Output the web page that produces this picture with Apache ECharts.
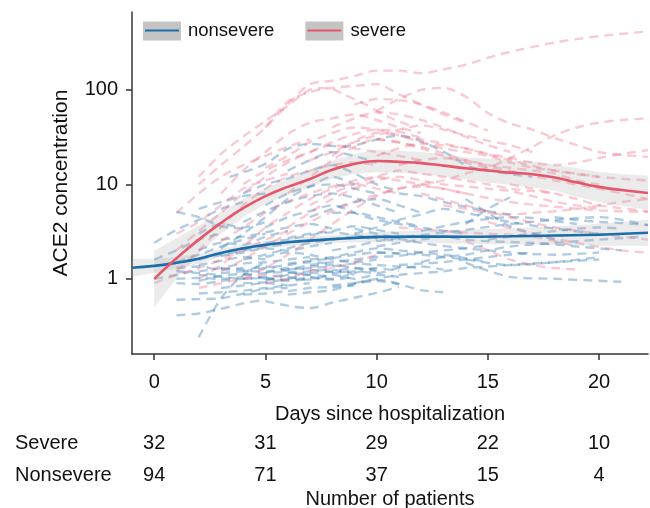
<!DOCTYPE html>
<html>
<head>
<meta charset="utf-8">
<script src="https://cdn.jsdelivr.net/npm/echarts@6/dist/echarts.min.js"></script>
<style>
html, body { margin: 0; padding: 0; background: #fff; }
#chart { width: 650px; height: 508px; }
</style>
</head>
<body>
<div id="chart"></div>
<script>
// tick positions and the patient counts table
const tickDays = [0, 5, 10, 15, 20];
const severeCounts = [32, 31, 29, 22, 10];
const nonsevereCounts = [94, 71, 37, 15, 4];
const yTicks = [1, 10, 100];

// fitted mean curves and their confidence bands
const nonDays = [-1, 0, 1, 2, 3, 4, 5, 6, 7, 8, 9, 10, 12, 14, 16, 18, 20, 22.2];
const nonMean = [1.31, 1.37, 1.48, 1.63, 1.88, 2.10, 2.29, 2.44, 2.54, 2.63, 2.71, 2.78, 2.80, 2.79, 2.82, 2.87, 2.93, 3.07];
const nonLow = [1.05, 1.16, 1.28, 1.44, 1.71, 1.91, 2.08, 2.21, 2.30, 2.39, 2.43, 2.46, 2.42, 2.35, 2.32, 2.30, 2.24, 2.24];
const nonHigh = [1.63, 1.62, 1.71, 1.84, 2.07, 2.31, 2.52, 2.69, 2.80, 2.90, 3.02, 3.14, 3.24, 3.31, 3.43, 3.57, 3.83, 4.21];

const sevDays = [0, 1, 2, 3, 4, 5, 6, 7, 8, 9, 10, 11, 12, 13, 14, 15, 16, 17, 18, 19, 20, 21, 22.2];
const sevMean = [1.0, 1.65, 2.6, 3.9, 5.6, 7.5, 9.4, 11.4, 14.3, 16.4, 17.7, 17.3, 16.8, 15.8, 14.8, 14.0, 13.3, 12.8, 11.8, 10.5, 9.4, 8.7, 8.1];
const sevLow = [0.50, 1.01, 1.84, 2.98, 4.5, 6.2, 7.7, 9.4, 11.5, 12.9, 13.5, 13.2, 12.8, 12.1, 11.3, 10.4, 9.9, 9.3, 8.6, 7.4, 6.5, 5.9, 5.4];
const sevHigh = [1.98, 2.69, 3.67, 5.1, 7.0, 9.1, 11.4, 13.9, 17.8, 20.9, 23.2, 22.7, 22.0, 20.7, 19.4, 18.8, 17.8, 17.6, 16.2, 14.8, 13.5, 12.9, 12.3];

// individual patients, [day, concentration]
const nonsevereTraces = [
    [[2, 0.24], [3, 0.62], [4, 1.1], [5, 1.5]],
    [[1, 0.41], [2, 0.43], [3, 0.48], [4, 0.55], [5, 0.6]],
    [[1, 0.6], [2, 0.61], [3, 0.62], [4, 0.7], [5, 0.78], [6, 0.8]],
    [[5, 0.58], [6, 0.52], [7, 0.49], [8, 0.56], [10, 0.71], [11, 0.82]],
    [[6, 0.68], [7, 0.72], [8, 0.76], [10, 0.98], [12, 0.76], [13, 0.72]],
    [[14, 1.48], [16, 1.05], [18, 1.0], [21, 0.93]],
    [[9, 3.4], [12, 2.4], [15, 2.0], [18, 1.8], [20, 1.9]],
    [[1, 1.0], [2, 1.02], [3, 1.0], [4, 1.05]],
    [[1, 1.2], [2, 1.15], [3, 1.1]],
    [[2, 0.95], [3, 1.08], [4, 1.12], [5, 1.0]],
    [[3, 1.3], [4, 1.25], [5, 1.35], [6, 1.2]],
    [[4, 0.9], [5, 0.92], [6, 1.0], [7, 1.1], [8, 1.05]],
    [[5, 1.15], [6, 1.3], [7, 1.25], [8, 1.18], [9, 1.2]],
    [[6, 1.05], [7, 0.98], [8, 1.1], [9, 1.0], [10, 1.1], [11, 1.05]],
    [[7, 1.35], [8, 1.4], [9, 1.3], [10, 1.2]],
    [[2, 1.4], [3, 1.55], [4, 1.7], [5, 1.6]],
    [[2, 2.0], [3, 2.4], [4, 2.3], [5, 2.8], [6, 3.2]],
    [[0, 2.4], [1, 3.3], [2, 4.2], [3, 5.5], [4, 6.5]],
    [[1, 5.1], [2, 4.5], [3, 3.6], [4, 3.4]],
    [[3, 2.1], [4, 3.0], [5, 4.5], [6, 7.0], [7, 9.5], [8, 12], [9, 10]],
    [[3.4, 12], [5, 16.5], [6, 23.7], [7, 26.8], [8.5, 25], [10.9, 32.6], [11.7, 30.4], [13.2, 21], [14.2, 15.3], [17, 12]],
    [[4, 8], [5, 10], [6, 11.5], [7, 14], [8, 16], [9, 13], [10, 10], [11, 8.5]],
    [[5, 3.5], [6, 4.5], [7, 5.2], [8, 6.0], [9, 5.0], [10, 4.2], [12, 3.5], [14, 3.0]],
    [[8, 2.0], [9, 2.2], [10, 2.5], [12, 2.9], [14, 3.3], [16, 3.8], [18, 4.2], [20, 4.5], [22.2, 3.7]],
    [[10, 1.9], [12, 1.8], [14, 1.6], [16, 1.4], [18, 1.5], [20, 1.7]],
    [[7, 1.6], [8, 1.7], [9, 1.9], [10, 2.1], [11, 2.0], [13, 1.8], [15, 1.5]],
    [[9, 0.9], [10, 1.0], [11, 1.1], [12, 1.15], [13, 1.2], [14, 1.3], [15, 1.35], [16, 1.4], [17, 1.45], [19, 1.55], [20, 1.6]],
    [[14, 3.8], [15, 5.5], [16, 7.3]],
    [[14, 7], [15, 5], [16, 3.6], [18, 2.6]],
    [[3, 1.75], [4, 1.9], [5, 2.1], [6, 2.0], [7, 2.2], [8, 2.4]],
    [[5, 1.7], [6, 1.9], [7, 1.8], [8, 1.6], [9, 1.5], [10, 1.6]],
    [[2, 1.2], [3, 1.3], [4, 1.45], [5, 1.5], [6, 1.6], [7, 1.7]],
    [[6, 1.25], [7, 1.3], [8, 1.35], [9, 1.45], [10, 1.4], [12, 1.3]],
    [[8, 0.85], [9, 0.9], [10, 0.95], [11, 0.88]],
    [[3, 0.8], [4, 0.85], [5, 0.9], [6, 0.85]],
    [[0, 1.0], [1, 1.1], [2, 1.25]],
    [[4, 4.0], [5, 5.2], [6, 6.5], [7, 7.5], [8, 8.0], [9, 7.2], [10, 6.0], [11, 5.0]],
    [[9, 3.0], [10, 3.5], [11, 4.2], [12, 4.8], [13, 5.5], [14, 5.0], [16, 4.0], [18, 3.4], [20, 3.0]],
    [[6, 2.7], [7, 3.0], [8, 3.2], [9, 3.6], [10, 3.3], [11, 3.0]],
    [[12, 1.5], [13, 1.7], [14, 1.8], [15, 2.0], [16, 2.2], [18, 2.4], [20, 2.6], [22, 2.8]],
    [[2, 3.0], [3, 3.8], [4, 3.5], [5, 4.0]],
    [[4, 1.2], [5, 1.3], [6, 1.4], [7, 1.5], [8, 1.45]],
    [[1, 0.9], [2, 0.88], [3, 0.95]],
    [[5, 0.95], [6, 1.1], [7, 1.15], [8, 1.2], [9, 1.3], [10, 1.25]],
    [[8, 5.0], [9, 5.0], [10, 4.5], [11, 4.0], [12, 3.6]],
    [[11, 8.0], [12, 7.5], [13, 6.5], [14, 5.8], [15, 5.2], [16, 4.8]],
    [[18, 4.5], [19, 4.2], [20, 4.0], [21, 3.9], [22.2, 3.7]],
    [[1, 1.3], [2, 1.35], [3, 1.25], [4, 1.3]],
    [[2, 1.1], [3, 1.05], [4, 1.0], [5, 1.05], [6, 1.1]],
    [[3, 0.95], [4, 1.0], [5, 1.02], [6, 0.95], [7, 1.0]],
    [[4, 1.1], [5, 1.15], [6, 1.18], [7, 1.1]],
    [[5, 1.0], [6, 0.98], [7, 1.02], [8, 0.98], [9, 1.05]],
    [[6, 1.15], [7, 1.2], [8, 1.25], [9, 1.1]],
    [[7, 1.05], [8, 1.0], [9, 1.15], [10, 1.3], [11, 1.2]],
    [[8, 1.15], [9, 1.2], [10, 1.15], [11, 1.3], [12, 1.35], [13, 1.25]],
    [[2, 1.6], [3, 1.8], [4, 2.0], [5, 2.2], [6, 2.3]],
    [[3, 2.6], [4, 2.8], [5, 3.1], [6, 3.5], [7, 3.8], [8, 3.4]],
    [[4, 1.6], [5, 1.8], [6, 2.1], [7, 2.4], [8, 2.6], [9, 2.8], [10, 2.6]],
    [[5, 2.4], [6, 2.6], [7, 2.9], [8, 3.1], [9, 2.9], [10, 2.7], [11, 2.5]],
    [[6, 1.45], [7, 1.55], [8, 1.65], [9, 1.8], [10, 1.9], [11, 1.85]],
    [[1, 1.5], [2, 1.8], [3, 2.2], [4, 2.6], [5, 3.0]],
    [[0, 1.6], [1, 2.0], [2, 2.6], [3, 3.0]],
    [[7, 4.5], [8, 5.5], [9, 6.5], [10, 7.0], [11, 6.0], [12, 5.0]],
    [[5, 6], [6, 8], [7, 9.5], [8, 10], [9, 9], [10, 8]],
    [[9, 1.6], [10, 1.7], [11, 1.75], [12, 1.9], [13, 2.0], [14, 2.1], [15, 2.3]],
    [[10, 2.2], [11, 2.4], [12, 2.6], [13, 2.8], [14, 2.6], [15, 2.5], [17, 2.4], [19, 2.2], [21, 2.0]],
    [[2, 0.7], [3, 0.72], [4, 0.75], [5, 0.8], [6, 0.85], [7, 0.9]],
    [[4, 0.68], [5, 0.7], [6, 0.74], [7, 0.8], [8, 0.82], [9, 0.85]],
    [[3, 1.15], [4, 1.2], [5, 1.2], [6, 1.25], [7, 1.4], [8, 1.5], [9, 1.6]],
    [[11, 1.4], [12, 1.45], [13, 1.5], [14, 1.6], [15, 1.7], [16, 1.8], [17, 1.9]],
    [[12, 3.2], [13, 3.6], [14, 4.0], [15, 4.3], [16, 4.5], [17, 4.4], [18, 4.1], [19, 3.8]],
    [[15, 2.6], [16, 2.8], [17, 3.0], [18, 3.2], [19, 3.4], [20, 3.5], [21, 3.4]],
    [[2, 5.5], [3, 6.5], [4, 7.5], [5, 8.0]],
    [[6, 14], [7, 18], [8, 22], [9, 20], [10, 17]]
];

const severeTraces = [
    [[2, 10], [3, 16], [4, 25], [5, 40], [6, 70], [7, 115], [8, 125], [9, 140], [10, 160], [11, 160], [12, 150], [13, 165], [14, 185], [15.6, 240], [18.1, 320], [20.4, 380], [22.2, 415]],
    [[12, 10], [13, 11], [14, 13], [15, 15], [16, 19], [17, 25], [18, 33], [19, 40], [20, 45], [21, 48], [22.2, 50]],
    [[5, 40], [6, 75], [7, 95], [8, 105], [9, 110], [10, 115], [11, 90], [12, 70], [13, 55], [14, 45]],
    [[10, 60], [11, 80], [12, 100], [13, 105], [14, 85], [15, 57], [16, 44], [17, 38], [18, 31], [19, 26], [20, 22], [21, 20.5], [22.2, 19.5]],
    [[10, 30], [12, 25], [14, 18], [16, 14], [18, 11], [20, 9], [22.2, 7]],
    [[8, 20], [10, 35], [12, 30], [14, 24], [16, 18], [18, 14], [20, 12], [22.2, 11]],
    [[12, 8], [14, 6], [16, 4.5], [18, 3.5], [20, 3.0], [22.2, 2.6]],
    [[10, 12], [12, 10], [14, 8], [16, 6.5], [18, 5.8], [20, 5.3], [22.2, 5.1]],
    [[15, 4], [17, 3], [19, 2.4], [21, 2.0], [22.2, 1.9]],
    [[14, 2.5], [15, 2.0], [16, 1.6], [17, 1.4], [18, 1.3], [19, 1.25]],
    [[11, 3.5], [13, 3.2], [15, 3.0], [17, 2.8], [19, 2.2]],
    [[1, 1.2], [2, 2.0], [3, 3.5], [4, 6], [5, 9], [6, 12], [7, 14], [8, 16], [9, 17], [10, 16]],
    [[1, 2.0], [2, 3.2], [3, 5], [4, 8], [5, 12], [6, 17], [7, 22], [8, 26], [9, 24], [10, 22], [11, 20], [12, 18]],
    [[2, 1.0], [3, 1.4], [4, 2.2], [5, 3.5], [6, 5], [7, 7], [8, 9], [9, 11], [10, 12]],
    [[3, 8], [4, 14], [5, 22], [6, 34], [7, 45], [8, 50], [9, 55], [10, 48], [11, 40], [12, 35]],
    [[1, 5], [2, 8], [3, 12], [4, 16], [5, 20], [6, 25], [7, 30]],
    [[2, 12], [3, 21], [4, 32], [5, 47], [6, 68], [7, 100], [7.8, 105], [8.5, 90], [9.5, 70], [10.5, 52], [11.5, 42]],
    [[0, 0.9], [1, 1.1], [2, 1.3], [3, 1.6], [4, 2.0], [5, 2.6], [6, 3.2]],
    [[4, 1.0], [5, 1.3], [6, 1.8], [7, 2.6], [8, 3.8], [9, 5.5], [10, 7.5], [11, 9], [12, 10]],
    [[6, 8], [7, 12], [8, 18], [9, 25], [10, 30], [11, 28], [12, 24], [13, 20], [14, 17], [15, 15], [16, 13]],
    [[8, 40], [9, 50], [10, 58], [11, 55], [12, 48], [13, 40], [14, 32], [15, 26], [16, 22]],
    [[9, 70], [10, 80], [11, 78], [12, 70], [13, 58], [14, 46], [15, 37]],
    [[5, 15], [6, 20], [7, 28], [8, 35], [9, 40], [10, 38], [11, 33], [12, 28], [13, 24], [14, 22], [15, 20], [16, 17], [17, 15], [18, 14], [19, 13], [20, 12]],
    [[7, 6], [8, 8], [9, 10], [10, 12], [11, 14], [12, 13], [13, 12], [14, 11], [15, 10], [16, 9], [17, 8.5], [18, 8]],
    [[3, 2.5], [4, 3.5], [5, 5], [6, 6.5], [7, 8], [8, 9.5], [9, 10], [10, 9], [11, 8]],
    [[10, 20], [11, 24], [12, 27], [13, 26], [14, 24], [15, 21], [16, 19], [17, 17], [18, 16], [19, 17], [20, 19], [21, 21], [22.2, 23]],
    [[2, 0.8], [3, 0.9], [4, 1.0], [5, 1.1], [6, 1.0]],
    [[5, 0.9], [6, 1.0], [7, 1.2], [8, 1.3], [9, 1.5], [10, 1.8]],
    [[3, 1.2], [4, 1.6], [5, 2.2], [6, 3.0], [7, 4.0], [8, 5.2], [9, 6.5], [10, 7.8], [11, 9], [12, 9.5], [13, 9], [14, 8]],
    [[6, 3.5], [7, 5], [8, 7], [9, 9], [10, 11], [11, 12], [12, 11], [13, 10], [14, 9.5], [15, 9], [16, 8.5], [17, 7.5], [18, 6.5], [19, 6], [20, 5.5]],
    [[4, 10], [5, 14], [6, 18], [7, 22], [8, 28], [9, 34], [10, 38], [11, 36], [12, 31]],
    [[7, 18], [8, 22], [9, 28], [10, 33], [11, 38], [12, 42], [13, 38], [14, 33], [15, 29], [16, 26], [17, 22]],
    [[11, 16], [12, 18], [13, 19], [14, 18], [15, 16], [16, 15], [17, 14], [18, 13], [19, 11], [20, 10]],
    [[13, 6], [14, 5.5], [15, 5], [16, 4.8], [17, 5], [18, 5.2], [19, 5.5], [20, 6], [21, 6.5], [22.2, 7]],
    [[1, 3], [2, 4], [3, 6], [4, 9], [5, 11], [6, 13]],
    [[16, 10], [17, 9], [18, 8], [19, 7], [20, 6], [21, 5.6], [22.2, 5.2]]
];

const FONT = '"Liberation Sans", Arial, Helvetica, sans-serif';
const BLUE = '#1a6ea9';
const RED = '#e5566b';

function traceSeries(list, color) {
    return list.map((pts, i) => ({
        type: 'line',
        name: color + i,
        data: pts,
        symbol: 'none',
        silent: true,
        smooth: 0.3,
        z: 1,
        lineStyle: { color: color, width: 2.4, type: [9, 6] }
    }));
}

function bandSeries(xs, lo, hi) {
    return {
        type: 'custom',
        silent: true,
        z: 2,
        data: [[0, 1]],
        renderItem: function (params, api) {
            const pts = [];
            xs.forEach((d, i) => pts.push(api.coord([d, hi[i]])));
            for (let i = xs.length - 1; i >= 0; i--) pts.push(api.coord([xs[i], lo[i]]));
            return {
                type: 'polygon',
                shape: { points: pts },
                style: { fill: 'rgba(165,165,165,0.22)' }
            };
        }
    };
}

function zip(xs, ys) {
    return xs.map((x, i) => [x, ys[i]]);
}

const countAxis = (offset, counts) => ({
    type: 'value',
    min: -1,
    max: 22.2,
    position: 'bottom',
    offset: offset,
    axisLine: { show: false },
    axisTick: { show: false },
    splitLine: { show: false },
    axisLabel: {
        customValues: tickDays,
        margin: 0,
        fontSize: 20,
        fontFamily: FONT,
        color: '#111',
        formatter: (v) => String(counts[tickDays.indexOf(v)])
    }
});

const option = {
    animation: false,
    backgroundColor: '#fff',
    textStyle: { fontFamily: FONT },
    grid: { left: 132, top: 12, right: 2, bottom: 154, containLabel: false },
    legend: [
        {
            data: ['nonsevere', 'severe'],
            selectedMode: false,
            left: 143,
            top: 21.5,
            padding: 0,
            icon: 'rect',
            itemWidth: 38,
            itemHeight: 19,
            itemGap: 31,
            itemStyle: { color: '#c4c4c4', borderWidth: 0 },
            textStyle: { fontSize: 18.5, color: '#111', fontFamily: FONT, padding: [0, 0, 0, 2] }
        },
        {
            data: ['nonsevere', 'severe'],
            selectedMode: false,
            left: 145,
            top: 21,
            padding: 0,
            icon: 'rect',
            itemWidth: 34,
            itemHeight: 2,
            itemGap: 35,
            itemStyle: { borderWidth: 0 },
            textStyle: { fontSize: 18.5, color: 'rgba(0,0,0,0)', fontFamily: FONT, padding: [0, 0, 0, 2] }
        }
    ],
    xAxis: [
        {
            type: 'value',
            min: -1,
            max: 22.2,
            name: 'Days since hospitalization',
            nameLocation: 'middle',
            nameGap: 50,
            nameTextStyle: { fontSize: 20, color: '#111', fontFamily: FONT },
            axisLine: { onZero: false, lineStyle: { color: '#333', width: 1.5 } },
            axisTick: { customValues: tickDays, length: 6, lineStyle: { color: '#333', width: 1.5 } },
            axisLabel: { customValues: tickDays, margin: 18, fontSize: 20, color: '#111', fontFamily: FONT },
            splitLine: { show: false }
        },
        countAxis(79, severeCounts),
        countAxis(111, nonsevereCounts)
    ],
    yAxis: {
        type: 'log',
        logBase: 10,
        min: 0.16,
        max: 668,
        name: 'ACE2 concentration',
        nameLocation: 'middle',
        nameGap: 60,
        nameTextStyle: { fontSize: 21, color: '#111', fontFamily: FONT },
        axisLine: { show: true, onZero: false, lineStyle: { color: '#333', width: 1.5 } },
        axisTick: { customValues: yTicks, length: 6, lineStyle: { color: '#333', width: 1.5 } },
        axisLabel: { customValues: yTicks, margin: 14, fontSize: 20, color: '#111', fontFamily: FONT },
        splitLine: { show: false }
    },
    graphic: [
        { type: 'text', left: 15, top: 433, style: { text: 'Severe', fontSize: 20, fill: '#111', fontFamily: FONT } },
        { type: 'text', left: 15, top: 465, style: { text: 'Nonsevere', fontSize: 20, fill: '#111', fontFamily: FONT } },
        { type: 'text', x: 390, y: 489, style: { text: 'Number of patients', fontSize: 20, fill: '#111', fontFamily: FONT, textAlign: 'center' } }
    ],
    series: [
        ...traceSeries(nonsevereTraces, 'rgba(40,115,175,0.36)'),
        ...traceSeries(severeTraces, 'rgba(238,100,122,0.34)'),
        bandSeries(nonDays, nonLow, nonHigh),
        bandSeries(sevDays, sevLow, sevHigh),
        {
            type: 'line',
            name: 'nonsevere',
            data: zip(nonDays, nonMean),
            symbol: 'none',
            smooth: true,
            silent: true,
            z: 3,
            itemStyle: { color: BLUE },
            lineStyle: { color: BLUE, width: 2.6 }
        },
        {
            type: 'line',
            name: 'severe',
            data: zip(sevDays, sevMean),
            symbol: 'none',
            smooth: true,
            silent: true,
            z: 3,
            itemStyle: { color: RED },
            lineStyle: { color: RED, width: 2.6 }
        }
    ]
};

const chart = echarts.init(document.getElementById('chart'));
chart.setOption(option);
</script>
</body>
</html>
